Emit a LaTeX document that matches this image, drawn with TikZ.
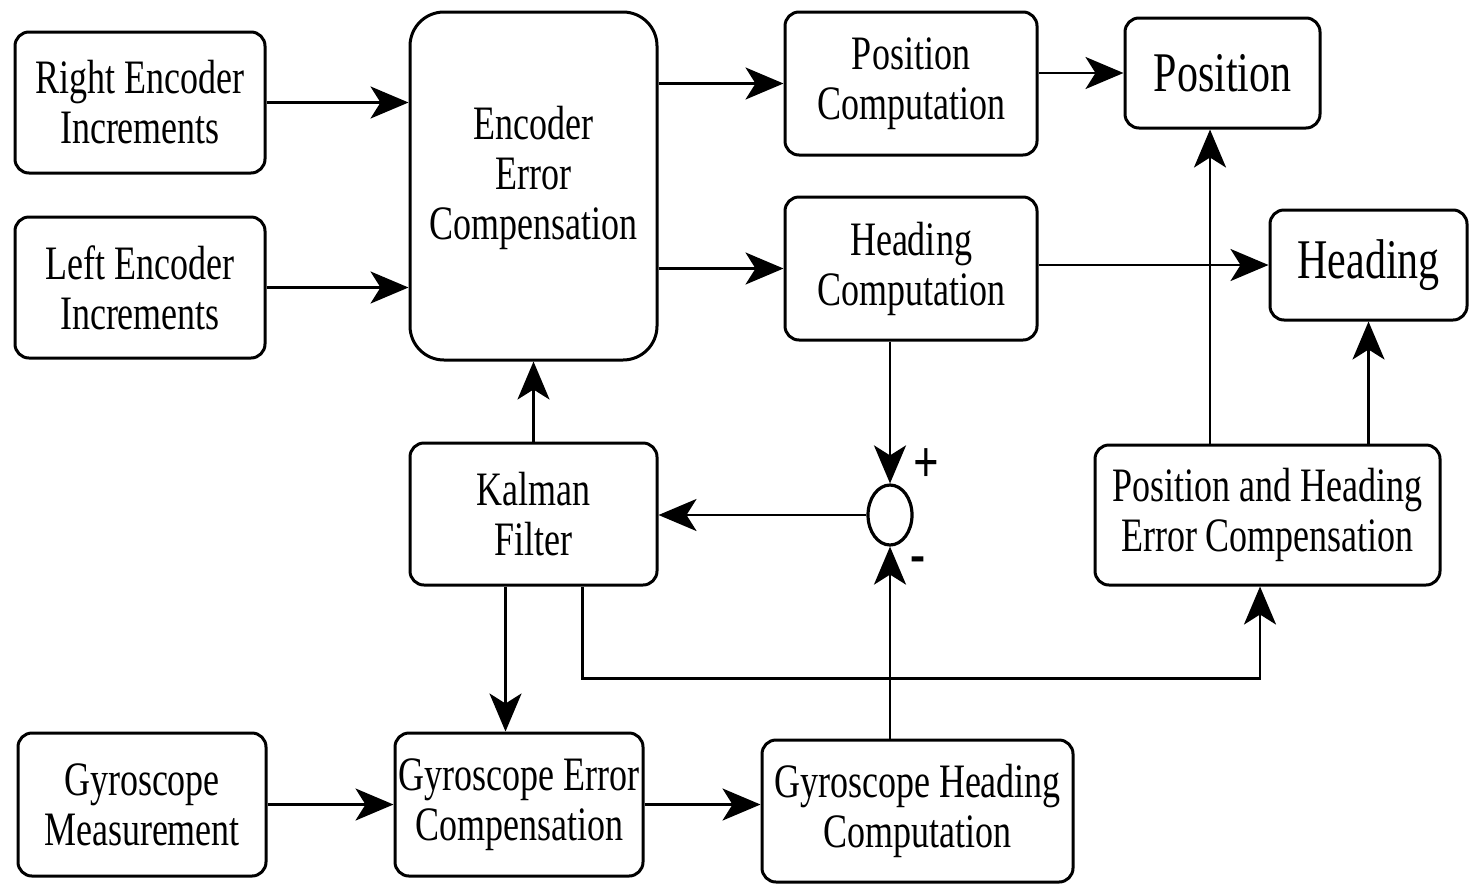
\documentclass[tikz,border=0pt]{standalone}
\usepackage{fontspec}
\setmainfont{Liberation Serif}[FakeStretch=0.75]
\usetikzlibrary{arrows.meta,shapes.geometric}
\begin{document}
\begin{tikzpicture}[x=0.5pt,y=-0.5pt,
  box/.style={draw, line width=1.5pt, rounded corners=7pt, align=center, inner xsep=0pt,
    font=\fontsize{24}{25}\selectfont},
  bigbox/.style={box, rounded corners=17pt},
  big/.style={font=\fontsize{28}{30}\selectfont},
  arr/.style={line width=1.4pt, -{Stealth[length=19pt,width=16pt,inset=5pt]}},
  sumnode/.style={draw, line width=1.6pt, ellipse, inner sep=0pt, minimum width=22pt, minimum height=30pt},
  sign/.style={font=\fontsize{30}{30}\selectfont\bfseries}]
\useasboundingbox (0,0) rectangle (1475,884);
\fill[white] (0,0) rectangle (1475,884);

\node[box, minimum width=125pt, minimum height=70.5pt] (re) at (140,102.5) {Right Encoder\\Increments};
\node[box, minimum width=125pt, minimum height=70.5pt] (le) at (140,287.5) {Left Encoder\\Increments};
\node[bigbox, minimum width=123.5pt, minimum height=174pt] (eec) at (533.5,186) {Encoder\\Error\\Compensation\\[-12pt]\mbox{}};
\node[box, minimum width=126pt, minimum height=71.5pt] (pc) at (911,83.5) {Position\\Computation};
\node[box, big, minimum width=97.5pt, minimum height=55pt] (pos) at (1222.5,73) {Position};
\node[box, minimum width=126pt, minimum height=71.5pt] (hc) at (911,268.5) {Heading\\Computation};
\node[box, big, minimum width=98.5pt, minimum height=55pt] (hd) at (1368.5,265) {Heading};
\node[box, minimum width=123.5pt, minimum height=71pt] (kf) at (533.5,514) {Kalman\\Filter};
\node[sumnode] (sum) at (890,515) {};
\node[box, minimum width=172.5pt, minimum height=70pt] (phec) at (1267.5,515) {Position and Heading\\Error Compensation};
\node[box, minimum width=124pt, minimum height=71.5pt] (gm) at (142,804.5) {Gyroscope\\Measurement};
\node[box, minimum width=124pt, minimum height=71.5pt] (gec) at (519,804.5) {Gyroscope Error\\Compensation};
\node[box, minimum width=155.5pt, minimum height=71pt] (ghc) at (917.5,811) {Gyroscope Heading\\Computation};

\node[sign] (plus) at (926,466) {+};
\node[sign] (minus) at (918,565) {-};

\draw[arr] (re.east) -- (re.east -| eec.west);
\draw[arr] (le.east) -- (le.east -| eec.west);
\draw[arr] (eec.east |- pc.west) -- (pc.west);
\draw[arr] (eec.east |- hc.west) -- (hc.west);
\draw[arr] (pc.east |- pos.west) -- (pos.west);
\draw[arr] (hc.east |- hd.west) -- (hd.west);
\draw[arr] (kf.north) -- (eec.south);
\draw[arr] (hc.south -| sum.north) -- (sum.north);
\draw[arr] (ghc.north -| sum.south) -- (sum.south);
\draw[arr] (sum.west) -- (kf.east |- sum.west);
\draw[arr] ([xshift=-14pt]kf.south) -- ([xshift=-14pt]kf.south |- gec.north);
\draw[arr] ([xshift=24.5pt]kf.south) -- ++(0,92) -| ([xshift=-3.75pt]phec.south);
\draw[arr] ([xshift=-28.75pt]phec.north) -- ([xshift=-28.75pt]phec.north |- pos.south);
\draw[arr] (phec.north -| hd.south) -- (hd.south);
\draw[arr] (gm.east) -- (gm.east -| gec.west);
\draw[arr] (gec.east) -- (gec.east -| ghc.west);
\end{tikzpicture}
\end{document}
